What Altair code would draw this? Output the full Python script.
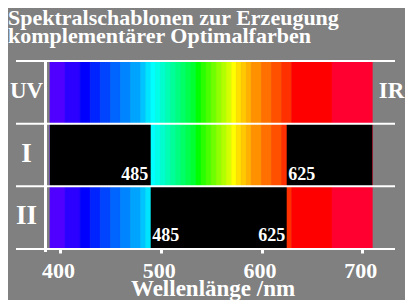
import altair as alt
import pandas as pd

# ---------------- data ----------------
title_lines = ["Spektralschablonen zur Erzeugung", "komplementärer Optimalfarben"]
rows = ["UV", "I", "II"]
side_label = "IR"

band_edges = [390, 405, 420, 430, 440, 450, 460, 470, 480, 485, 490, 495, 500,
              505, 510, 515, 520, 525, 530, 535, 540, 545, 550, 555, 560, 565,
              570, 575, 580, 585, 590, 600, 610, 620, 630, 670, 710]
band_colors = ["#5000ff", "#2c00ff", "#0000ff", "#0024ff", "#0044ff", "#0064ff",
               "#0084ff", "#00a4ff", "#00c4ff", "#00e4ff", "#00ffff", "#00ffe6",
               "#00ffcc", "#00ffb3", "#00ff99", "#00ff80", "#00ff66", "#00ff4d",
               "#00ff33", "#00ff00", "#2aff00", "#4cff00", "#6eff00", "#90ff00",
               "#b2ff00", "#d4ff00", "#ffff00", "#ffe000", "#ffc800", "#ffb000",
               "#ff9000", "#ff7000", "#ff5000", "#ff3000", "#ff0000", "#ff0030"]

mask_rows = ["I", "I", "II"]
mask_start = [390, 625, 490]
mask_end = [490, 710, 625]

cut_values = [490, 625]
cut_labels = ["485", "625"]

tick_values = [400, 500, 600, 700]
axis_title = "Wellenlänge /nm"

# ---------------- tables ----------------
row_index = {r: i for i, r in enumerate(rows)}
spec_records = []
for r in rows:
    for i, c in enumerate(band_colors):
        spec_records.append({"row": r, "start": band_edges[i], "end": band_edges[i + 1],
                             "r0": row_index[r], "r1": row_index[r] + 1, "color": c})
spec_df = pd.DataFrame(spec_records)

mask_df = pd.DataFrame({"row": mask_rows, "start": mask_start, "end": mask_end})
mask_df["r0"] = mask_df["row"].map(row_index)
mask_df["r1"] = mask_df["r0"] + 1

rows_df = pd.DataFrame({"row": rows, "rc": [i + 0.5 for i in range(len(rows))]})
lines_df = pd.DataFrame({"r": list(range(len(rows) + 1))})

W, H = 379, 188
FONT = "Liberation Serif"
WHITE = "#ffffff"

xscale = alt.Scale(domain=[356.3, 732.5], nice=False, zero=False)
yscale = alt.Scale(domain=[0, 3], reverse=True, nice=False, zero=False)

xaxis = alt.Axis(values=tick_values, title=axis_title, domain=False, grid=False,
                 tickColor=WHITE, tickWidth=3, tickSize=10, offset=-6,
                 labelColor=WHITE, labelFont=FONT, labelFontWeight="bold",
                 labelFontSize=22, labelBaseline="alphabetic", labelPadding=24,
                 labelOffset=-2, labelFlush=False, format="d",
                 titleColor=WHITE, titleFont=FONT, titleFontWeight="bold",
                 titleFontSize=23, titleX=196.5, titleY=52,
                 titleBaseline="alphabetic", titleAlign="center")

spec = alt.Chart(spec_df).mark_rect(strokeWidth=0.6).encode(
    x=alt.X("start:Q", scale=xscale, axis=xaxis),
    x2="end:Q",
    y=alt.Y("r0:Q", scale=yscale, axis=None),
    y2="r1:Q",
    color=alt.Color("color:N", scale=None),
    stroke=alt.Stroke("color:N", scale=None),
)

mask = alt.Chart(mask_df).mark_rect(color="#000000", strokeWidth=0).encode(
    x=alt.X("start:Q", scale=xscale),
    x2="end:Q",
    y=alt.Y("r0:Q", scale=yscale),
    y2="r1:Q",
)

hlines = alt.Chart(lines_df).mark_rule(color=WHITE, strokeWidth=2).encode(
    y=alt.Y("r:Q", scale=yscale), x=alt.value(0), x2=alt.value(W))

vline = alt.Chart(lines_df).mark_rule(color=WHITE, strokeWidth=3).encode(
    x=alt.value(29.5), y=alt.value(0), y2=alt.value(191))

txt = dict(font=FONT, fontWeight="bold", color=WHITE, baseline="alphabetic")

label_uv = alt.Chart(rows_df).transform_filter(alt.datum.row == "UV").mark_text(
    align="center", fontSize=23, dy=6, **txt).encode(
    x=alt.value(10.5), y=alt.Y("rc:Q", scale=yscale), text="row:N")

label_roman = alt.Chart(rows_df).transform_filter(alt.datum.row != "UV").mark_text(
    align="center", fontSize=27, dy=6.5, **txt).encode(
    x=alt.value(10.5), y=alt.Y("rc:Q", scale=yscale), text="row:N")

label_ir = alt.Chart(rows_df).transform_filter(alt.datum.row == "UV").mark_text(
    align="center", fontSize=23, dy=6, text=side_label, **txt).encode(
    x=alt.value(375.5), y=alt.Y("rc:Q", scale=yscale))

def cut_text(idx, row_bottom, align, dx, dy):
    d = pd.DataFrame({"x": [cut_values[idx]], "t": [cut_labels[idx]], "y": [row_bottom]})
    return alt.Chart(d).mark_text(align=align, fontSize=18, dx=dx, dy=dy, **txt).encode(
        x=alt.X("x:Q", scale=xscale), y=alt.Y("y:Q", scale=yscale), text="t:N")

cuts = [
    cut_text(0, 2, "right", -2.5, -6),
    cut_text(1, 2, "left", 1.5, -6),
    cut_text(0, 3, "left", 1.5, -8),
    cut_text(1, 3, "right", -1.5, -8),
]

title1 = alt.Chart(lines_df).transform_filter(alt.datum.r == 0).mark_text(
    align="left", fontSize=22, text=title_lines[0], **txt).encode(
    x=alt.value(-8), y=alt.value(-36))
title2 = alt.Chart(lines_df).transform_filter(alt.datum.r == 0).mark_text(
    align="left", fontSize=22, text=title_lines[1], **txt).encode(
    x=alt.value(-8), y=alt.value(-18))

chart = alt.layer(spec, mask, hlines, vline, label_uv, label_roman, label_ir,
                  *cuts, title1, title2).properties(
    width=W, height=H, background="#808080",
    padding={"left": 8, "top": 53, "right": 10, "bottom": 51},
    autosize=alt.AutoSizeParams(type="none"),
).configure_view(stroke=None)

chart.save("out.html", embed_options={"renderer": "svg", "actions": False})
